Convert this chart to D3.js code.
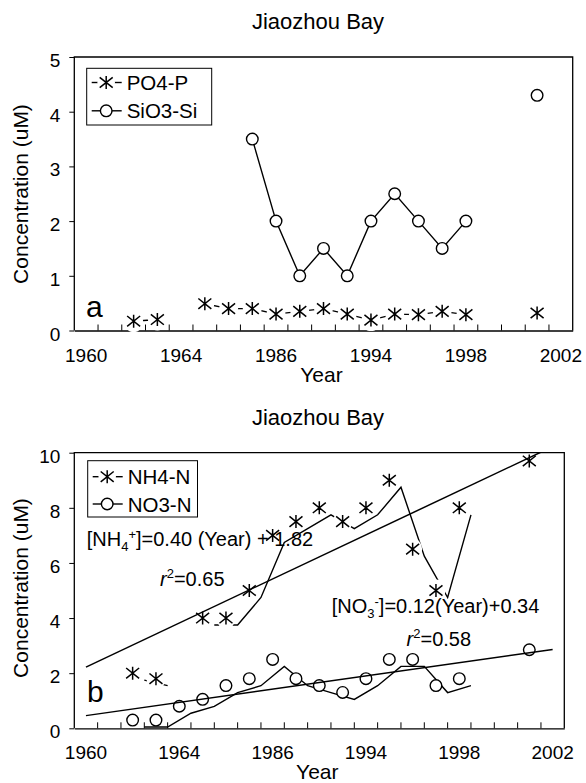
<!DOCTYPE html>
<html>
<head>
<meta charset="utf-8">
<script src="https://cdn.jsdelivr.net/npm/d3@7"></script>
<style>
body{margin:0;background:#fff;}
svg text{font-family:"Liberation Sans",Arial,sans-serif;fill:#000;}
</style>
</head>
<body>
<div id="chart"></div>
<script>
// category axis: 21 slots, only every 4th slot carries a label
var nCat=21;
var labelStep=4;
var tickLabels=["1960","1964","1986","1994","1998","2002"];

// panel a (uM), null = no sample
var po4=[null,null,0.17,0.2,null,0.49,0.4,0.4,0.3,0.35,0.4,0.3,0.19,0.3,0.29,0.35,0.29,null,null,0.32,null];
var sio3=[null,null,null,null,null,null,null,3.5,2.0,1.0,1.5,1.0,2.0,2.5,2.0,1.5,2.0,null,null,4.3,null];
// panel b (uM)
var nh4=[null,null,2.0,1.8,null,4.0,4.0,5.0,7.0,7.5,8.0,7.5,8.0,9.0,6.5,5.0,8.0,null,null,9.7,null];
var no3=[null,null,0.3,0.3,0.8,1.05,1.55,1.8,2.5,1.8,1.55,1.3,1.8,2.5,2.5,1.55,1.8,null,null,2.85,null];
// regression lines printed in panel b (x = slot number, 1..21)
var nh4Fit=[0.40,1.82];
var no3Fit=[0.12,0.34];

var W=586,H=783;
var svg=d3.select("#chart").append("svg").attr("width",W).attr("height",H);
svg.append("rect").attr("width",W).attr("height",H).attr("fill","#fff");

function starPath(s){
	return "M0,"+(-s)+"L0,"+s+"M"+(-s)+","+(-s*0.8)+"L"+s+","+(s*0.8)+"M"+(-s)+","+(s*0.8)+"L"+s+","+(-s*0.8);
}

function drawPanel(p){
	var g=svg.append("g");
	var x=d3.scaleBand().domain(d3.range(nCat)).range([p.left,p.right]).padding(0);
	var y=d3.scaleLinear().domain([0,p.yMax]).range([p.bottom,p.top]);
	var bw=x.bandwidth();

	//标题
	g.append("text").attr("x",318).attr("y",p.top-28).attr("text-anchor","middle")
		.style("font-size","22px").text("Jiaozhou Bay");

	//x axis: bottom line, inward ticks on slot borders
	var xAxis=d3.axisBottom(x).tickSizeInner(0).tickSizeOuter(0)
		.tickValues(d3.range(0,nCat,labelStep))
		.tickFormat(function(d){return tickLabels[d/labelStep];});
	var gx=g.append("g").attr("transform","translate(0,"+p.bottom+")").call(xAxis);
	gx.select(".domain").attr("stroke","#000").attr("stroke-width",1.3);
	gx.selectAll("text").attr("y",31).attr("dy",0).style("font-size","19px");
	g.selectAll(".xtick").data(d3.range(1,nCat)).enter().append("line")
		.attr("x1",function(d){return x(d);}).attr("x2",function(d){return x(d);})
		.attr("y1",p.bottom).attr("y2",p.bottom-6)
		.attr("stroke","#000").attr("stroke-width",1);

	var yAxis=d3.axisLeft(y).tickValues(d3.range(0,p.yMax+0.01,p.yStep))
		.tickFormat(d3.format("d")).tickSize(5).tickPadding(9);
	var gy=g.append("g").attr("transform","translate("+p.left+",0)").call(yAxis);
	gy.select(".domain").remove();
	gy.selectAll("line").attr("stroke","#000");
	gy.selectAll("text").attr("dy","0.5em").style("font-size","19px");

	g.append("text").attr("x",(p.left+p.right)/2-2).attr("y",p.bottom+51).attr("text-anchor","middle")
		.style("font-size","21px").text("Year");
	g.append("text").attr("transform","translate(28,"+p.ylabY+") rotate(-90)").attr("text-anchor","middle")
		.style("font-size","21px").text("Concentration (uM)");

	//series lines, then white halos, then markers
	p.series.forEach(function(s){
		var pts=s.values.map(function(v,i){return {i:i,v:v};});
		var line=d3.line().defined(function(d){return d.v!=null;})
			.x(function(d){return x(d.i)+bw/2;}).y(function(d){return y(d.v);});
		g.append("path").datum(pts).attr("d",line)
			.attr("transform","translate("+(p.shift?bw/2:0)+","+(p.shift?7:0)+")")
			.attr("fill","none").attr("stroke","#000").attr("stroke-width",1.4);
	});
	p.series.forEach(function(s){
		var pts=s.values.map(function(v,i){return {i:i,v:v};}).filter(function(d){return d.v!=null;});
		if(s.type=="star"){
			g.selectAll(null).data(pts).enter().append("ellipse")
				.attr("cx",function(d){return x(d.i)+bw/2;}).attr("cy",function(d){return y(d.v);})
				.attr("rx",9.5).attr("ry",11).attr("fill","#fff");
			g.selectAll(null).data(pts).enter().append("path")
				.attr("transform",function(d){return "translate("+(x(d.i)+bw/2)+","+y(d.v)+")";})
				.attr("d",starPath(6.5)).attr("stroke","#000").attr("stroke-width",1.5).attr("fill","none");
		}else{
			g.selectAll(null).data(pts).enter().append("circle")
				.attr("cx",function(d){return x(d.i)+bw/2;}).attr("cy",function(d){return y(d.v);})
				.attr("r",5.8).attr("fill","#fff").attr("stroke","#000").attr("stroke-width",1.4);
		}
	});

	//frame on top of halos
	g.append("path").attr("d","M"+p.left+","+p.bottom+"V"+p.top+"H"+p.right+"V"+p.bottom)
		.attr("fill","none").attr("stroke","#000").attr("stroke-width",1.3);

	//regression lines
	var clipId="clip"+p.letter;
	svg.append("clipPath").attr("id",clipId).append("rect")
		.attr("x",p.left).attr("y",p.top).attr("width",p.right-p.left).attr("height",p.bottom-p.top);
	(p.fits||[]).forEach(function(f){
		var ends=[0,nCat-1];
		g.append("line").attr("clip-path","url(#"+clipId+")")
			.attr("x1",x(ends[0])+bw/2).attr("y1",y(f[0]*(ends[0]+1)+f[1]))
			.attr("x2",x(ends[1])+bw/2).attr("y2",y(f[0]*(ends[1]+1)+f[1]))
			.attr("stroke","#000").attr("stroke-width",1.5);
	});

	g.append("text").attr("x",p.letterX).attr("y",p.letterY).style("font-size","30px").text(p.letter);

	//legend
	var lg=p.legend;
	g.append("rect").attr("x",lg.x0).attr("y",lg.y0).attr("width",lg.x1-lg.x0).attr("height",lg.y1-lg.y0)
		.attr("fill","#fff").attr("stroke","#000").attr("stroke-width",1);
	p.series.forEach(function(s,i){
		var ry=lg.rows[i];
		g.append("line").attr("x1",lg.x0+5).attr("x2",lg.x0+35).attr("y1",ry).attr("y2",ry)
			.attr("stroke","#000").attr("stroke-width",1.4);
		var cx=lg.x0+19.5;
		if(s.type=="star"){
			g.append("ellipse").attr("cx",cx).attr("cy",ry).attr("rx",8.8).attr("ry",9).attr("fill","#fff");
			g.append("path").attr("transform","translate("+cx+","+ry+")").attr("d",starPath(6.5))
				.attr("stroke","#000").attr("stroke-width",1.5).attr("fill","none");
		}else{
			g.append("circle").attr("cx",cx).attr("cy",ry).attr("r",5.8)
				.attr("fill","#fff").attr("stroke","#000").attr("stroke-width",1.4);
		}
		g.append("text").attr("x",lg.x0+40).attr("y",ry+7.5).style("font-size","20.5px").text(s.name);
	});
	return {x:x,y:y,g:g};
}

drawPanel({
	left:74.3,right:572.7,top:57,bottom:330.5,yMax:5,yStep:1,ylabY:194,
	letter:"a",letterX:86,letterY:316.5,
	series:[{name:"PO4-P",type:"star",values:po4},{name:"SiO3-Si",type:"circle",values:sio3}],
	legend:{x0:86.7,y0:68.3,x1:211.7,y1:125,rows:[82.5,110.8]}
});

var pb=drawPanel({
	left:74.3,right:564.3,top:452.7,bottom:728.3,yMax:10,yStep:2,ylabY:588,shift:true,
	letter:"b",letterX:87,letterY:701.5,
	series:[{name:"NH4-N",type:"star",values:nh4},{name:"NO3-N",type:"circle",values:no3}],
	fits:[nh4Fit,no3Fit],
	legend:{x0:87.7,y0:460.7,x1:197.5,y1:517,rows:[476.7,504]}
});

//equations
var eq1=pb.g.append("text").attr("x",86.7).attr("y",546).style("font-size","20px");
eq1.append("tspan").text("[NH");
eq1.append("tspan").attr("dy",5).style("font-size","13px").text("4");
eq1.append("tspan").attr("dy",-12).style("font-size","13px").text("+");
eq1.append("tspan").attr("dy",7).text("]=0.40 (Year) + 1.82");

var r1=pb.g.append("text").attr("x",160).attr("y",586).style("font-size","20px");
r1.append("tspan").style("font-style","italic").text("r");
r1.append("tspan").attr("dy",-8).style("font-size","13px").text("2");
r1.append("tspan").attr("dy",8).text("=0.65");

var eq2=pb.g.append("text").attr("x",331.7).attr("y",613).style("font-size","20px");
eq2.append("tspan").text("[NO");
eq2.append("tspan").attr("dy",5).style("font-size","13px").text("3");
eq2.append("tspan").attr("dy",-12).style("font-size","13px").text("-");
eq2.append("tspan").attr("dy",7).text("]=0.12(Year)+0.34");

var r2=pb.g.append("text").attr("x",406.6).attr("y",646).style("font-size","20px");
r2.append("tspan").style("font-style","italic").text("r");
r2.append("tspan").attr("dy",-8).style("font-size","13px").text("2");
r2.append("tspan").attr("dy",8).text("=0.58");
</script>
</body>
</html>
